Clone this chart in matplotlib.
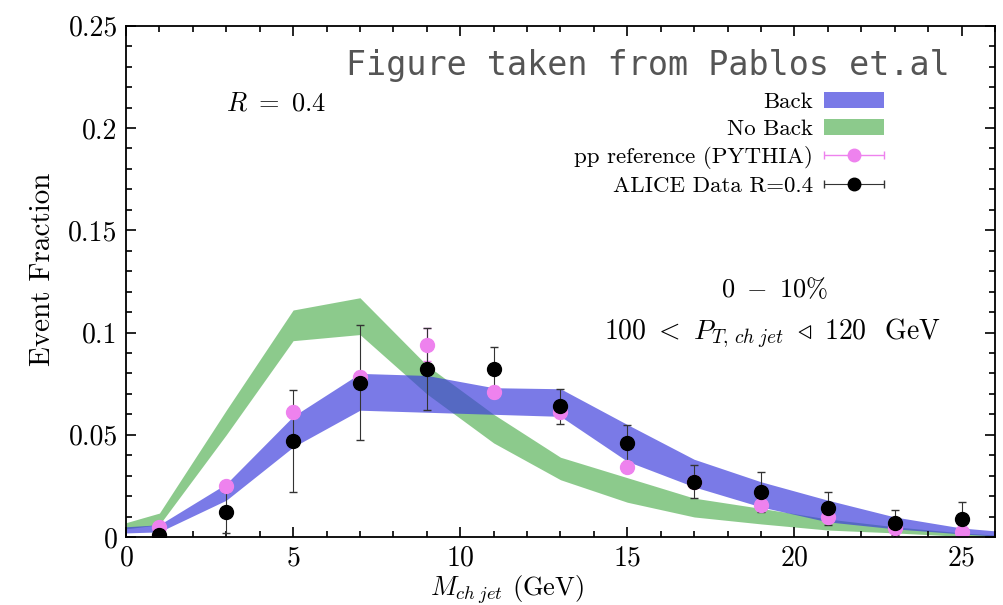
import numpy as np
import matplotlib
matplotlib.use("Agg")
import matplotlib.pyplot as plt
from matplotlib.ticker import MultipleLocator
from matplotlib.patches import Patch
from matplotlib.legend_handler import HandlerErrorbar

plt.rcParams['font.family'] = ['cmr10', 'DejaVu Serif']
plt.rcParams['mathtext.fontset'] = 'cm'
plt.rcParams['axes.formatter.use_mathtext'] = True

# bands (knots along M_ch jet)
band_x = [0, 1, 3, 5, 7, 9, 11, 13, 15, 17, 19, 21, 23, 25, 26]
back_lo = [0.002, 0.0025, 0.018, 0.044, 0.062, 0.061, 0.060, 0.059, 0.037, 0.0245, 0.0147, 0.0074, 0.004, 0.0015, 0.0005]
back_hi = [0.005, 0.006, 0.026, 0.059, 0.080, 0.079, 0.073, 0.0725, 0.055, 0.038, 0.027, 0.018, 0.0098, 0.0044, 0.003]
noback_lo = [0.004, 0.006, 0.050, 0.096, 0.099, 0.070, 0.046, 0.028, 0.017, 0.0098, 0.0064, 0.0034, 0.002, 0.0003, 0.0]
noback_hi = [0.007, 0.0117, 0.062, 0.111, 0.117, 0.084, 0.060, 0.039, 0.029, 0.019, 0.014, 0.0088, 0.005, 0.002, 0.001]

# points
pt_x = [1, 3, 5, 7, 9, 11, 13, 15, 17, 19, 21, 23, 25]
pythia = [0.005, 0.025, 0.061, 0.078, 0.094, 0.071, 0.061, 0.034, 0.027, 0.0157, 0.0098, 0.0044, 0.0025]
pythia_err = [0.002, 0.002, 0.003, 0.003, 0.008, 0.003, 0.003, 0.002, 0.002, 0.002, 0.002, 0.001, 0.001]
alice = [0.001, 0.012, 0.047, 0.0755, 0.082, 0.082, 0.064, 0.046, 0.027, 0.022, 0.014, 0.007, 0.009]
alice_err = [0.002, 0.010, 0.025, 0.028, 0.020, 0.011, 0.0085, 0.009, 0.008, 0.010, 0.008, 0.006, 0.008]

blue = '#3b3bdc'
green = '#4fae4f'

fig = plt.figure(figsize=(10.04, 6.05), dpi=100)
ax = fig.add_axes([0.1255, 0.1124, 0.8655, 0.845])

ax.fill_between(band_x, noback_lo, noback_hi, color=green, alpha=0.65, lw=0)
ax.fill_between(band_x, back_lo, back_hi, color=blue, alpha=0.68, lw=0)

ax.errorbar(pt_x, pythia, yerr=pythia_err, fmt='o', color='violet', ms=10, capsize=3,
            elinewidth=1)
ax.errorbar(pt_x, alice, yerr=alice_err, fmt='o', color='black', ms=10, capsize=3,
            elinewidth=0.8, ecolor='#333333')

# legend proxies (horizontal error bars like the original)
h_back = Patch(color=blue, alpha=0.68, lw=0)
h_noback = Patch(color=green, alpha=0.65, lw=0)
h_py = ax.errorbar([np.nan], [np.nan], xerr=[1], fmt='o', color='violet', ms=9, capsize=3, elinewidth=1)
h_al = ax.errorbar([np.nan], [np.nan], xerr=[1], fmt='o', color='black', ms=9, capsize=3,
                   elinewidth=0.8, ecolor='#333333')
ax.legend([h_back, h_noback, h_py, h_al],
          ['Back', 'No Back', 'pp reference (PYTHIA)', 'ALICE Data R=0.4'],
          handler_map={type(h_py): HandlerErrorbar(xerr_size=1.3)},
          loc='upper right', bbox_to_anchor=(0.875, 0.875), frameon=False, markerfirst=False,
          fontsize=16.5, handlelength=2.6, handletextpad=0.5, labelspacing=0.3, borderpad=0.1,
          borderaxespad=0)

ax.set_xlim(0, 26)
ax.set_ylim(0, 0.25)
ax.xaxis.set_major_locator(MultipleLocator(5))
ax.xaxis.set_minor_locator(MultipleLocator(1))
ax.yaxis.set_major_locator(MultipleLocator(0.05))
ax.yaxis.set_minor_locator(MultipleLocator(0.01))
ax.tick_params(which='both', direction='in', top=True, right=True, labelsize=20, width=1.2)
ax.tick_params(which='major', length=7, pad=6)
ax.tick_params(which='minor', length=4)
ax.set_yticks([0, 0.05, 0.1, 0.15, 0.2, 0.25])
ax.set_yticklabels(['0', '0.05', '0.1', '0.15', '0.2', '0.25'])
for s in ax.spines.values():
    s.set_linewidth(1.3)

ax.set_xlabel(r'$M_{ch\;jet}$ (GeV)', fontsize=19)
ax.xaxis.set_label_coords(0.438, -0.071)
ax.set_ylabel('Event Fraction', fontsize=21)
ax.yaxis.set_label_coords(-0.080, 0.524)

ax.text(3.0, 0.2085, r'$R\ =\ 0.4$', fontsize=19)
ax.text(19.4, 0.1175, r'$0\ -\ 10\%$', fontsize=19, ha='center')
ax.text(19.35, 0.0965, r'$100\ <\ P_{T,\,ch\;jet}\ \triangleleft\ 120$  GeV', fontsize=20, ha='center')
ax.text(0.948, 0.923, 'Figure taken from Pablos et.al', transform=ax.transAxes,
        family='DejaVu Sans Mono', fontsize=24, color='#555555', ha='right', va='center')

fig.savefig('out.png', dpi=100)
